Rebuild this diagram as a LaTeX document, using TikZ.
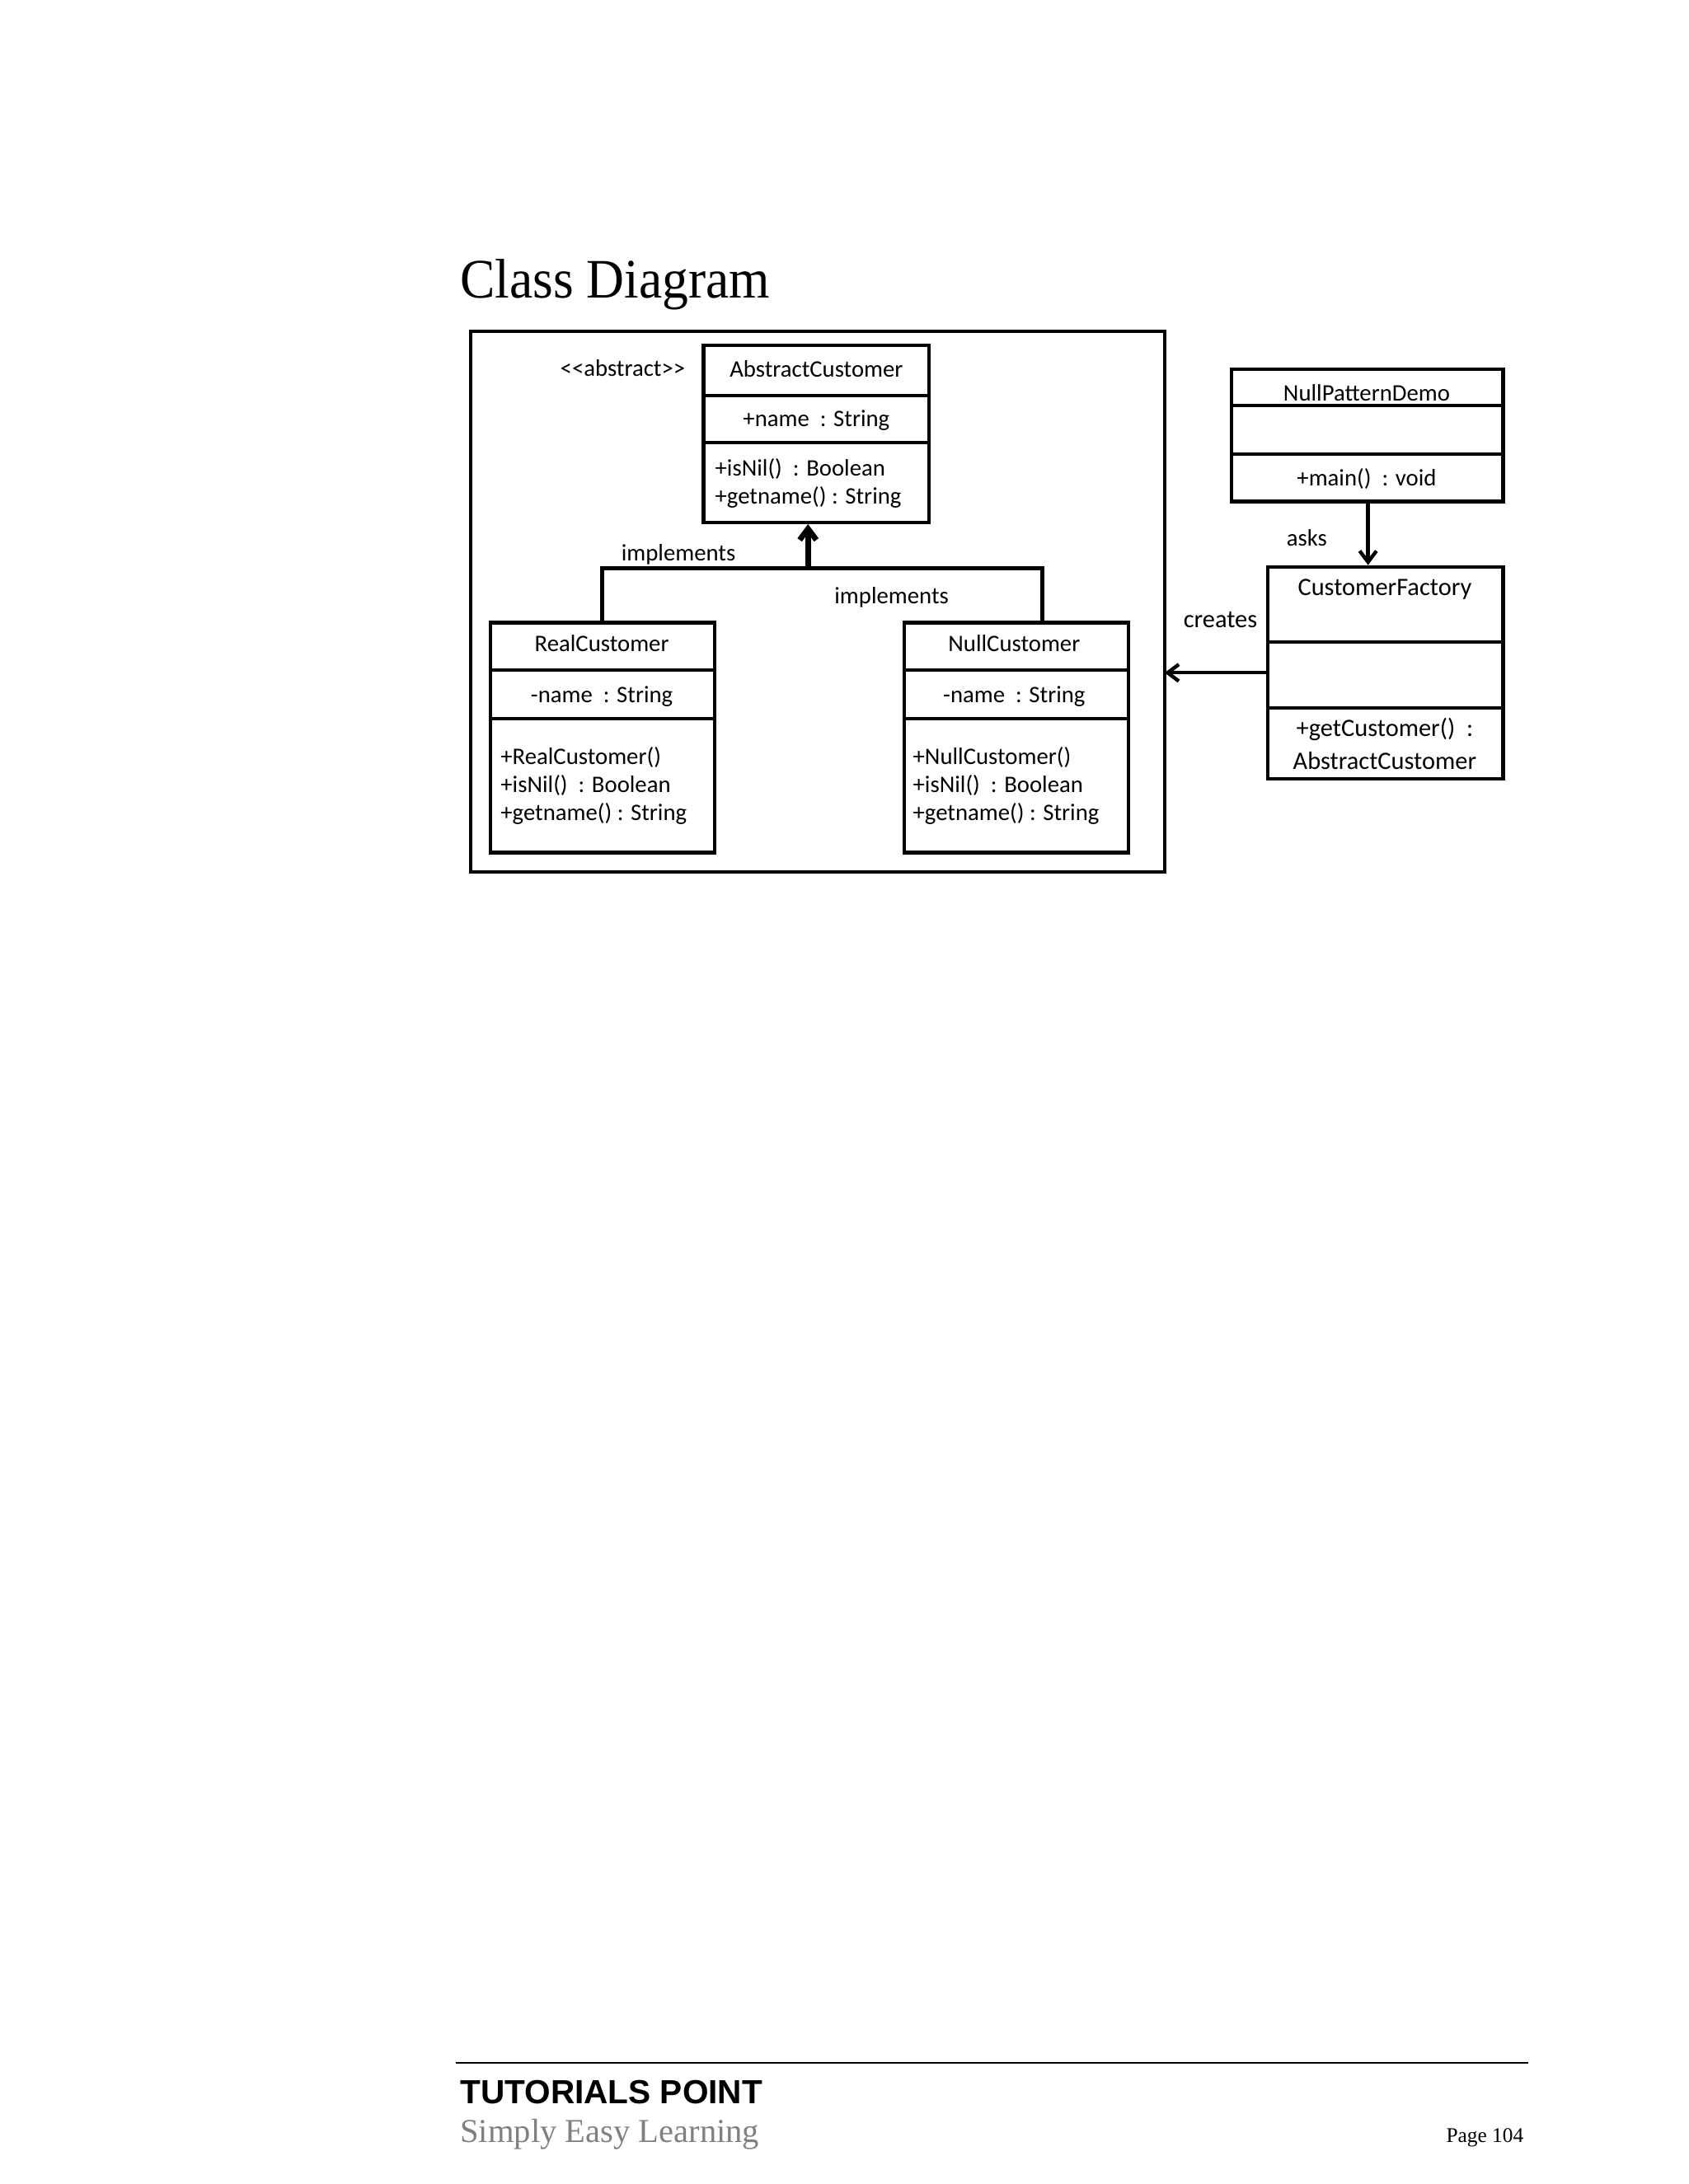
\documentclass[tikz,border=0pt]{standalone}
\usepackage{fontspec}
\setmainfont{Liberation Serif}
\newfontfamily\boxf{Carlito}
\newfontfamily\arialf{Liberation Sans}
\usetikzlibrary{arrows.meta}
\begin{document}
\begin{tikzpicture}[x=0.5pt,y=-0.5pt,
  cls/.style={draw,line width=1.3pt,inner sep=0pt},
  txt/.style={font=\boxf\fontsize{8.5}{10}\selectfont,inner sep=0pt,align=left},
  conn/.style={line width=1.5pt},
  arr/.style={line width=1.3pt,-{Straight Barb[length=4pt,width=6pt]}}]
\useasboundingbox (0,0) rectangle (1212,1568);
\node[anchor=base west,inner sep=0pt,font=\fontsize{20}{24}\selectfont,xscale=0.94] (title) at (330,214) {Class Diagram};
\draw[line width=1.2pt] (338,238) rectangle (836,626);
% AbstractCustomer
\node[cls,minimum width=81pt,minimum height=63.5pt] (ac) at (586,311.5) {};
\draw[line width=1.2pt] (505,284)--(667,284) (505,318)--(667,318);
\node[txt] at (586,265) {AbstractCustomer};
\node[txt] at (586,302) {+name\ \ : String};
\node[txt,anchor=west] at (513,347) {+isNil()\ \ : Boolean\\+getname() : String};
\node[txt] (abs) at (447,264) {<{}<abstract>{}>};
% RealCustomer
\node[cls,minimum width=80.5pt,minimum height=82.5pt] (rc) at (432.5,529.5) {};
\draw[line width=1.2pt] (352,481)--(513,481) (352,516)--(513,516);
\node[txt] at (432,462) {RealCustomer};
\node[txt] at (432,500) {-name\ \ : String};
\node[txt,anchor=west] at (359,564) {+RealCustomer()\\+isNil()\ \ : Boolean\\+getname() : String};
% NullCustomer
\node[cls,minimum width=80.5pt,minimum height=82.5pt] (nc) at (729.5,529.5) {};
\draw[line width=1.2pt] (649,481)--(810,481) (649,516)--(810,516);
\node[txt] at (728,462) {NullCustomer};
\node[txt] at (728,500) {-name\ \ : String};
\node[txt,anchor=west] at (655,564) {+NullCustomer()\\+isNil()\ \ : Boolean\\+getname() : String};
% implements
\coordinate (j1) at (432,408); \coordinate (j2) at (748,408); \coordinate (jm) at (580,408);
\draw[conn] (rc.north -| j1) -- (j1) -- (j2) -- (nc.north -| j2);
\draw[arr,line width=2pt] (jm) -- (ac.south -| jm);
\node[txt] (im1) at (487,398) {implements};
\node[txt] (im2) at (640,429) {implements};
% NullPatternDemo
\node[cls,minimum width=97.5pt,minimum height=47.5pt] (npd) at (981.5,312.5) {};
\draw[line width=1.2pt] (884,291)--(1079,291) (884,326)--(1079,326);
\node[txt] at (981,282) {NullPatternDemo};
\node[txt] at (981,344) {+main()\ \ : void};
% CustomerFactory
\node[cls,minimum width=84.5pt,minimum height=76pt] (cf) at (994.5,483) {};
\draw[line width=1.2pt] (910,461)--(1079,461) (910,508)--(1079,508);
\node[txt,font=\boxf\fontsize{9}{11}\selectfont] at (994,423) {CustomerFactory};
\node[txt,align=center,font=\boxf\fontsize{9}{12}\selectfont] at (994,534) {+getCustomer()\ \ :\\AbstractCustomer};
\draw[arr] (npd.south -| 982,0) -- (cf.north -| 982,0);
\node[txt] (asks) at (938,386) {asks};
\coordinate (frameR) at (836,483);
\draw[arr] (cf.west) -- (frameR);
\node[txt,font=\boxf\fontsize{9}{11}\selectfont] (creates) at (876,445) {creates};
% footer
\draw[line width=0.8pt] (327,1481) -- (1097,1481);
\node[anchor=base west,inner sep=0pt,font=\arialf\bfseries\fontsize{12}{13}\selectfont] (tp) at (330,1510) {TUTORIALS POINT};
\node[anchor=base west,inner sep=0pt,text=gray,font=\fontsize{12}{14}\selectfont] (sel) at (330,1538) {Simply Easy Learning};
\node[anchor=base east,inner sep=0pt,font=\fontsize{7.5}{9}\selectfont] (pg) at (1094,1538) {Page 104};
\end{tikzpicture}
\end{document}
